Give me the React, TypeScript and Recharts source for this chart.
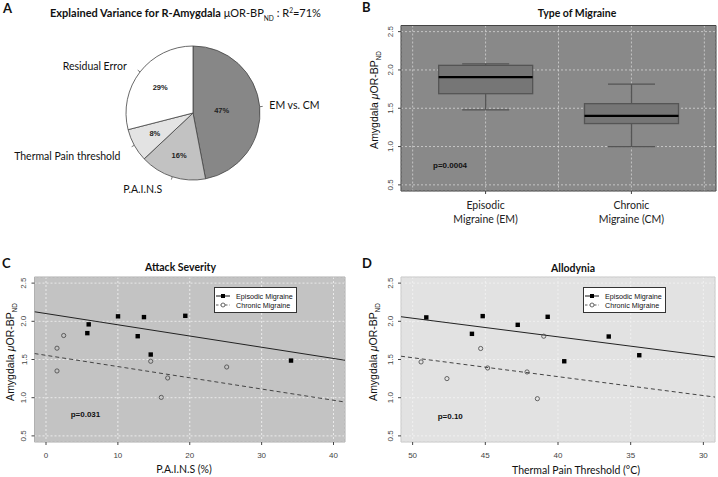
import React from 'react';
import {
  PieChart, Pie, Cell, ComposedChart, ScatterChart, Bar, Scatter, XAxis, YAxis,
  CartesianGrid, ReferenceArea, Legend
} from 'recharts';

// A - explained variance
const pieNames = ['EM vs. CM', 'P.A.I.N.S', 'Thermal Pain threshold', 'Residual Error'];
const pieValues = [47, 16, 8, 29];
const pieColors = ['#878787', '#c2c2c2', '#e3e3e3', '#ffffff'];
// label placement tweaks (style only)
const pieNameDy = [-1, 5.5, 7, -2];
const piePctRadius = [0.43, 0.67, 0.65, 0.62];

// B - type of migraine (box plot stats)
const boxCats = ['Episodic|Migraine (EM)', 'Chronic|Migraine (CM)'];
const boxPos = [1, 2];
const boxLow = [1.48, 1.0];
const boxQ1 = [1.69, 1.3];
const boxMed = [1.905, 1.4];
const boxQ3 = [2.06, 1.56];
const boxHigh = [2.08, 1.815];
const boxGridTicks = [0.5, 1, 1.5, 2, 2.5];
const boxDomain = [0.42, 2.58];

// shared y axis
const yTicks = [0.5, 1.0, 1.5, 2.0, 2.5];
const yDomain = [0.42, 2.58];

// C - attack severity
const painsTicks = [0, 10, 20, 30, 40];
const painsDomain = [-1.6, 41.6];
const painsEM = [5.75, 5.94, 10.02, 12.76, 13.63, 14.57, 19.38, 34.09];
const bpEM_C = [1.845, 1.96, 2.065, 1.805, 2.055, 1.565, 2.072, 1.486];
const painsCM = [2.46, 1.53, 1.53, 14.57, 16.93, 16.04, 25.14];
const bpCM_C = [1.814, 1.648, 1.35, 1.477, 1.258, 1.004, 1.402];
const fitEM_C = [2.125, 1.49]; // values at both ends of x domain
const fitCM_C = [1.578, 0.943];

// D - allodynia
const thermTicks = [30, 35, 40, 45, 50];
const thermDomain = [29.2, 50.8];
const thermEM = [49.06, 45.92, 45.18, 42.77, 40.71, 39.57, 36.51, 34.41];
const bpEM_D = [2.051, 1.836, 2.068, 1.954, 2.059, 1.477, 1.801, 1.556];
const thermCM = [49.42, 47.64, 45.32, 44.84, 40.98, 42.13, 41.42];
const bpCM_D = [1.468, 1.25, 1.644, 1.389, 1.805, 1.337, 0.987];
const fitEM_D = [2.06, 1.533];
const fitCM_D = [1.543, 1.008];

const seriesNames = ['Episodic Migraine', 'Chronic Migraine'];

const RAD = Math.PI / 180;
const SANS = '"Liberation Sans", Arial, sans-serif';
const CAL = 'Lato, "Open Sans", sans-serif';
const BOX_W = 94;

const pieData = pieNames.map((name, i) => ({ name, value: pieValues[i] }));
const boxData = boxCats.map((name, i) => ({
  name, pos: boxPos[i], lo: boxLow[i], q1: boxQ1[i], med: boxMed[i], q3: boxQ3[i], hi: boxHigh[i],
  range: [boxLow[i], boxHigh[i]],
}));
const pts = (xs: number[], ys: number[]) => xs.map((x, i) => ({ x, y: ys[i] }));
const fit = (dom: number[], ys: number[]) => [{ x: dom[0], y: ys[0] }, { x: dom[1], y: ys[1] }];

function PieLabel(props: any) {
  const { cx, cy, midAngle, outerRadius, index } = props;
  const c = Math.cos(-midAngle * RAD), s = Math.sin(-midAngle * RAD);
  const r = outerRadius;
  const right = c >= 0;
  const pr = r * piePctRadius[index];
  return (
    <g>
      <line x1={cx + r * c} y1={cy + r * s} x2={cx + (r + 3) * c} y2={cy + (r + 3) * s} stroke="#555" strokeWidth={0.8} />
      <text x={cx + r * 1.1 * c + (right ? 3 : -8)} y={cy + r * 1.1 * s + pieNameDy[index]} textAnchor={right ? 'start' : 'end'}
        dominantBaseline="central" fontFamily={CAL} fontSize={10.5} fill="#111">{pieNames[index]}</text>
      <text x={cx + pr * c} y={cy + pr * s} textAnchor="middle" dominantBaseline="central"
        fontFamily={SANS} fontSize={7.5} fontWeight="bold" fill="#222">{pieValues[index]}%</text>
    </g>
  );
}

function BoxShape(props: any) {
  const { x, y, width, height, payload } = props;
  const top = Math.min(y, y + height), h = Math.abs(height);
  const py = (v: number) => top + (h * (payload.hi - v)) / (payload.hi - payload.lo);
  const mid = x + width / 2;
  const bx = mid - BOX_W / 2;
  const cap = BOX_W / 4;
  const st = { stroke: '#555', strokeWidth: 1.3 };
  return (
    <g>
      <line x1={mid} x2={mid} y1={py(payload.hi)} y2={py(payload.q3)} {...st} />
      <line x1={mid} x2={mid} y1={py(payload.q1)} y2={py(payload.lo)} {...st} />
      <line x1={mid - cap} x2={mid + cap} y1={py(payload.hi)} y2={py(payload.hi)} {...st} />
      <line x1={mid - cap} x2={mid + cap} y1={py(payload.lo)} y2={py(payload.lo)} {...st} />
      <rect x={bx} y={py(payload.q3)} width={BOX_W} height={py(payload.q1) - py(payload.q3)} fill="#767676" {...st} />
      <line x1={bx} x2={bx + BOX_W} y1={py(payload.med)} y2={py(payload.med)} stroke="#000" strokeWidth={2.2} />
    </g>
  );
}

// only the category positions carry a label and a tick mark
function CatTick(props: any) {
  const { x, y, payload } = props;
  const i = boxPos.indexOf(Number(payload.value));
  if (i < 0) return <g />;
  const [a, b] = boxCats[i].split('|');
  return (
    <g>
      <line x1={x} x2={x} y1={y - 5} y2={y - 2} stroke="#444" strokeWidth={1} />
      <text x={x} y={y} textAnchor="middle" fontFamily={CAL} fontSize={10.5} fill="#222">
        <tspan x={x} dy={13}>{a}</tspan>
        <tspan x={x} dy={14}>{b}</tspan>
      </text>
    </g>
  );
}

function RotTick(props: any) {
  const { x, y, payload } = props;
  return (
    <text x={x} y={y} transform={`rotate(-90, ${x}, ${y})`} textAnchor="middle" fontFamily={SANS} fontSize={8} fill="#444">
      {Number(payload.value).toFixed(1)}
    </text>
  );
}

const Square = (p: any) => <rect x={p.cx - 2.2} y={p.cy - 2.2} width={4.4} height={4.4} fill="#000" />;
const Circle = (p: any) => <circle cx={p.cx} cy={p.cy} r={2.1} fill="none" stroke="#444" strokeWidth={0.8} />;
const NoDot = () => <g />;

function LegendBox() {
  return (
    <svg width={83} height={26} style={{ display: 'block' }}>
      <rect x={0.5} y={0.5} width={82} height={25} fill="#fff" stroke="#333" strokeWidth={1} />
      <line x1={2} x2={16} y1={9} y2={9} stroke="#111" strokeWidth={1} />
      <rect x={7} y={7} width={4} height={4} fill="#000" />
      <line x1={2} x2={16} y1={18} y2={18} stroke="#333" strokeWidth={0.8} strokeDasharray="2.5 2" />
      <circle cx={9} cy={18} r={2} fill="#fff" stroke="#444" strokeWidth={0.8} />
      <text x={22} y={9} dominantBaseline="central" fontFamily={SANS} fontSize={7.2} fill="#111">{seriesNames[0]}</text>
      <text x={22} y={18} dominantBaseline="central" fontFamily={SANS} fontSize={7.2} fill="#111">{seriesNames[1]}</text>
    </svg>
  );
}

function Txt({ x, y, children, anchor = 'middle', size = 10.5, weight = 'normal', family = CAL, rotate = false }: any) {
  const tx = anchor === 'middle' ? -50 : anchor === 'end' ? -100 : 0;
  return (
    <div style={{
      position: 'absolute', left: x, top: y, whiteSpace: 'nowrap', lineHeight: 1,
      fontFamily: family, fontSize: size, fontWeight: weight, color: '#111',
      transform: `translate(${tx}%, -50%)${rotate ? ' rotate(-90deg)' : ''}`,
    }}>{children}</div>
  );
}

const YTitle = () => (
  <span>Amygdala <i>μ</i>OR-BP<sub style={{ fontSize: '0.6em' }}>ND</sub></span>
);

function ScatterPanel({ domain, ticks, reversed, em, cm, fitEM, fitCM, bg, left, right, legendLeft, border }: any) {
  return (
    <ScatterChart width={left + right + (reversed ? 314 : 310.5)} height={247} margin={{ top: 47, right, bottom: 0, left: 0 }}>
      <CartesianGrid stroke="#f4f4f4" strokeDasharray="2 2" strokeWidth={0.8} fill={bg} />
      <XAxis type="number" dataKey="x" domain={domain} ticks={ticks} reversed={reversed} allowDataOverflow
        height={35} tickSize={3} tickMargin={7} axisLine={false} tickLine={{ stroke: '#444' }}
        tick={{ fontFamily: SANS, fontSize: 8, fill: '#444' }} />
      <YAxis type="number" dataKey="y" domain={yDomain} ticks={yTicks} allowDataOverflow width={left}
        tickSize={3} tickMargin={5} axisLine={false} tickLine={{ stroke: '#444' }} tick={<RotTick />} />
      <ReferenceArea x1={domain[0]} x2={domain[1]} y1={yDomain[0]} y2={yDomain[1]} fill="none" stroke={border} strokeWidth={1} ifOverflow="visible" />
      <Scatter data={fitEM} line={{ stroke: '#222', strokeWidth: 1 }} shape={NoDot} legendType="none" isAnimationActive={false} />
      <Scatter data={fitCM} line={{ stroke: '#444', strokeWidth: 1, strokeDasharray: '4 3' }} shape={NoDot} legendType="none" isAnimationActive={false} />
      <Scatter name={seriesNames[1]} data={cm} shape={Circle} isAnimationActive={false} />
      <Scatter name={seriesNames[0]} data={em} shape={Square} isAnimationActive={false} />
      <Legend layout="horizontal" verticalAlign="middle" align="center" content={<LegendBox />}
        wrapperStyle={{ left: legendLeft, top: 57, width: 'auto', height: 'auto' }} />
    </ScatterChart>
  );
}

export default function App() {
  return (
    <div style={{ position: 'absolute', left: 0, top: 0, width: 718, height: 477, background: '#fff', overflow: 'hidden' }}>
      {/* A */}
      <div style={{ position: 'absolute', left: 0, top: 0 }}>
        <PieChart width={360} height={230}>
          <Pie data={pieData} dataKey="value" cx={188} cy={108} outerRadius={67} startAngle={90} endAngle={-270}
            stroke="#444" strokeWidth={0.8} label={PieLabel} labelLine={false} isAnimationActive={false}>
            {pieData.map((d, i) => <Cell key={d.name} fill={pieColors[i]} />)}
          </Pie>
        </PieChart>
      </div>

      {/* B */}
      <div style={{ position: 'absolute', left: 360, top: 0 }}>
        <ComposedChart width={358} height={230} data={boxData} margin={{ top: 25.5, right: 2, bottom: 0, left: 0 }}>
          <CartesianGrid stroke="#d6d6d6" strokeDasharray="2 2" strokeWidth={0.8} fill="#898989" />
          <XAxis type="number" dataKey="pos" domain={boxDomain} ticks={boxGridTicks} allowDataOverflow interval={0}
            height={39} tickSize={3} tickMargin={2} tickLine={false} axisLine={false} tick={<CatTick />} />
          <YAxis domain={yDomain} ticks={yTicks} allowDataOverflow width={41} tickSize={3} tickMargin={5}
            axisLine={false} tickLine={{ stroke: '#444' }} tick={<RotTick />} />
          <Bar dataKey="range" barSize={BOX_W} shape={BoxShape} isAnimationActive={false} />
          <ReferenceArea x1={boxDomain[0]} x2={boxDomain[1]} y1={yDomain[0]} y2={yDomain[1]}
            fill="none" stroke="#444" strokeWidth={1} ifOverflow="visible" />
        </ComposedChart>
      </div>

      {/* C */}
      <div style={{ position: 'absolute', left: 0, top: 230 }}>
        <ScatterPanel domain={painsDomain} ticks={painsTicks} reversed={false}
          em={pts(painsEM, bpEM_C)} cm={pts(painsCM, bpCM_C)}
          fitEM={fit(painsDomain, fitEM_C)} fitCM={fit(painsDomain, fitCM_C)}
          bg="#c3c3c3" left={34.5} right={15} legendLeft={214} border="#b0b0b0" />
      </div>

      {/* D */}
      <div style={{ position: 'absolute', left: 360, top: 230 }}>
        <ScatterPanel domain={thermDomain} ticks={thermTicks} reversed={true}
          em={pts(thermEM, bpEM_D)} cm={pts(thermCM, bpCM_D)}
          fitEM={fit([thermDomain[1], thermDomain[0]], fitEM_D)} fitCM={fit([thermDomain[1], thermDomain[0]], fitCM_D)}
          bg="#e2e2e2" left={41} right={3} legendLeft={223} border="#c8c8c8" />
      </div>

      {/* text layer */}
      <Txt x={3} y={8} anchor="start" size={13} weight="bold">A</Txt>
      <Txt x={362} y={7} anchor="start" size={13} weight="bold">B</Txt>
      <Txt x={2} y={262.5} anchor="start" size={13} weight="bold">C</Txt>
      <Txt x={362} y={262.5} anchor="start" size={13} weight="bold">D</Txt>

      <Txt x={50} y={14} anchor="start" size={11}>
        <b>Explained Variance for R-Amygdala</b> μOR-BP<sub style={{ fontSize: '0.6em' }}>ND</sub> : R<sup style={{ fontSize: '0.6em' }}>2</sup>=71%
      </Txt>
      <Txt x={577} y={13} size={10.5} weight="bold">Type of Migraine</Txt>
      <Txt x={180.5} y={267} size={10.5} weight="bold">Attack Severity</Txt>
      <Txt x={573} y={268} size={10.5} weight="bold">Allodynia</Txt>
      <Txt x={184} y={469} size={10.5}>P.A.I.N.S (%)</Txt>
      <Txt x={576} y={470} size={10.5}>Thermal Pain Threshold (°C)</Txt>

      <Txt x={376} y={100} size={10.5} family={SANS} rotate><YTitle /></Txt>
      <Txt x={12} y={352} size={10.5} family={SANS} rotate><YTitle /></Txt>
      <Txt x={375} y={352} size={10.5} family={SANS} rotate><YTitle /></Txt>

      <Txt x={433} y={166} anchor="start" size={8} weight="bold" family={SANS}>p=0.0004</Txt>
      <Txt x={70.7} y={415} anchor="start" size={8} weight="bold" family={SANS}>p=0.031</Txt>
      <Txt x={437.7} y={417} anchor="start" size={8} weight="bold" family={SANS}>p=0.10</Txt>
    </div>
  );
}
